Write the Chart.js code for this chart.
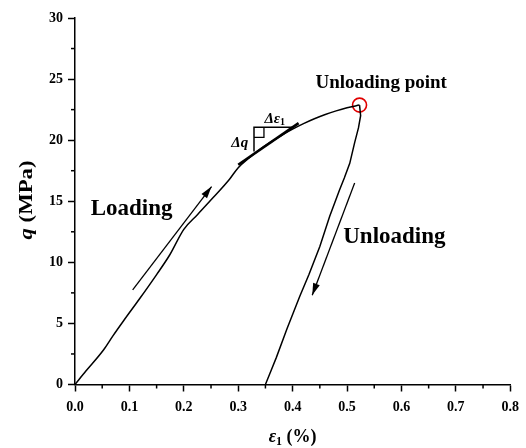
<!DOCTYPE html>
<html>
<head>
<meta charset="utf-8">
<script src="https://cdn.jsdelivr.net/npm/chart.js@4.4.1/dist/chart.umd.min.js"></script>
<style>
  html, body { margin: 0; padding: 0; background: #fff; }
  #wrap { width: 526px; height: 448px; }
</style>
</head>
<body>
<div id="wrap"><canvas id="c" width="526" height="448"></canvas></div>
<script>
'use strict';

// 加载段 (ε1 %, q MPa)
var loadingEps = [0, 0.02, 0.052, 0.07, 0.089, 0.12, 0.15, 0.174, 0.2, 0.225, 0.254, 0.284, 0.30, 0.32, 0.34, 0.36, 0.38, 0.40, 0.42, 0.44, 0.46, 0.48, 0.50, 0.523];
var loadingQ   = [0, 1.1, 2.8, 4.0, 5.2, 7.1, 9.0, 10.6, 12.7, 13.9, 15.3, 16.8, 17.75, 18.55, 19.25, 19.85, 20.4, 20.9, 21.35, 21.75, 22.1, 22.4, 22.65, 22.87];

// 卸载段
var unloadingEps = [0.523, 0.525, 0.521, 0.514, 0.505, 0.495, 0.486, 0.468, 0.45, 0.43, 0.413, 0.39, 0.37, 0.361, 0.35];
var unloadingQ   = [22.87, 22.0, 21.0, 19.8, 18.1, 16.9, 15.9, 13.75, 11.3, 9.0, 7.2, 4.6, 2.2, 1.2, 0];

// 切线与三角形 (数据坐标)
var tangentEps = [0.300, 0.411];
var tangentQ   = [17.99, 21.4];
var triangleEps = [0.329, 0.329, 0.4006];
var triangleQ   = [19.08, 21.05, 21.05];
var squareEps = [0.329, 0.3473, 0.3473];
var squareQ   = [20.23, 20.23, 21.05];

// 箭头
var loadArrowEps = [0.106, 0.251];
var loadArrowQ   = [7.75, 16.2];
var unloadArrowEps = [0.514, 0.436];
var unloadArrowQ   = [16.5, 7.3];

// 卸载点
var unloadPointEps = [0.523];
var unloadPointQ   = [22.87];

// 刻度
var xTicks = [0, 0.1, 0.2, 0.3, 0.4, 0.5, 0.6, 0.7, 0.8];
var yTicks = [0, 5, 10, 15, 20, 25, 30];

var SERIF = "'Liberation Serif', 'Times New Roman', serif";

function toPoints(xs, ys) {
  return xs.map(function (x, i) { return { x: x, y: ys[i] }; });
}

function lineSet(xs, ys, width) {
  return {
    data: toPoints(xs, ys),
    showLine: true,
    borderColor: '#000',
    borderWidth: width,
    pointRadius: 0,
    tension: 0,
    fill: false
  };
}

var loadingSet = lineSet(loadingEps, loadingQ, 1.5);
loadingSet.cubicInterpolationMode = 'monotone';

var loadArrow = lineSet(loadArrowEps, loadArrowQ, 1.3);
loadArrow.arrow = true;
var unloadArrow = lineSet(unloadArrowEps, unloadArrowQ, 1.3);
unloadArrow.arrow = true;

/** 次刻度、箭头头部、文字注释、坐标轴标题 */
var decorPlugin = {
  id: 'decor',
  afterDatasetsDraw: function (chart) {
    var ctx = chart.ctx;
    var xs = chart.scales.x;
    var ys = chart.scales.y;
    var area = chart.chartArea;

    ctx.save();
    ctx.strokeStyle = '#000';
    ctx.fillStyle = '#000';
    ctx.lineWidth = 1.5;

    // 次刻度
    var v, p;
    for (v = xs.min + 0.05; v < xs.max; v += 0.1) {
      p = xs.getPixelForValue(v);
      ctx.beginPath(); ctx.moveTo(p, area.bottom); ctx.lineTo(p, area.bottom + 4); ctx.stroke();
    }
    for (v = ys.min + 2.5; v < ys.max; v += 5) {
      p = ys.getPixelForValue(v);
      ctx.beginPath(); ctx.moveTo(area.left, p); ctx.lineTo(area.left - 4, p); ctx.stroke();
    }

    // 箭头头部
    chart.data.datasets.forEach(function (ds, i) {
      if (!ds.arrow) return;
      var pts = chart.getDatasetMeta(i).data;
      var a = pts[pts.length - 2], b = pts[pts.length - 1];
      var ang = Math.atan2(b.y - a.y, b.x - a.x);
      ctx.save();
      ctx.translate(b.x, b.y);
      ctx.rotate(ang);
      ctx.beginPath();
      ctx.moveTo(0, 0);
      ctx.lineTo(-12, -3.5);
      ctx.lineTo(-12, 3.5);
      ctx.closePath();
      ctx.fill();
      ctx.restore();
    });

    function text(str, ex, q, font, align) {
      ctx.font = font;
      ctx.textAlign = align || 'center';
      ctx.textBaseline = 'middle';
      ctx.fillText(str, xs.getPixelForValue(ex), ys.getPixelForValue(q));
    }

    text('Loading', 0.104, 14.36, 'bold 23px ' + SERIF);
    text('Unloading', 0.587, 12.1, 'bold 23px ' + SERIF);
    text('Unloading point', 0.5627, 24.7, 'bold 19px ' + SERIF);
    text('\u0394q', 0.3028, 19.77, 'italic bold 15px ' + SERIF);

    // Δε1
    var dx = xs.getPixelForValue(0.367), dy = ys.getPixelForValue(21.76);
    ctx.font = 'italic bold 15px ' + SERIF;
    var w1 = ctx.measureText('\u0394\u03b5').width;
    ctx.font = 'bold 10px ' + SERIF;
    var w2 = ctx.measureText('1').width;
    var sx = dx - (w1 + w2) / 2;
    ctx.textAlign = 'left';
    ctx.textBaseline = 'middle';
    ctx.font = 'italic bold 15px ' + SERIF;
    ctx.fillText('\u0394\u03b5', sx, dy);
    ctx.font = 'bold 10px ' + SERIF;
    ctx.fillText('1', sx + w1, dy + 4);

    // x 轴标题 ε1 (%)
    var cx = (area.left + area.right) / 2, cy = 437;
    ctx.font = 'italic bold 18px ' + SERIF;
    var a1 = ctx.measureText('\u03b5').width;
    ctx.font = 'bold 12px ' + SERIF;
    var a2 = ctx.measureText('1').width;
    ctx.font = 'bold 18px ' + SERIF;
    var a3 = ctx.measureText(' (%)').width;
    var tx = cx - (a1 + a2 + a3) / 2;
    ctx.font = 'italic bold 18px ' + SERIF;
    ctx.fillText('\u03b5', tx, cy);
    ctx.font = 'bold 12px ' + SERIF;
    ctx.fillText('1', tx + a1, cy + 5);
    ctx.font = 'bold 18px ' + SERIF;
    ctx.fillText(' (%)', tx + a1 + a2, cy);

    // y 轴标题 q (MPa)，原图文字沿长度方向略拉伸
    ctx.save();
    ctx.translate(27, 200);
    ctx.rotate(-Math.PI / 2);
    ctx.scale(1.2, 1);
    ctx.font = 'italic bold 19px ' + SERIF;
    var b1 = ctx.measureText('q').width;
    ctx.font = 'bold 19px ' + SERIF;
    var b2 = ctx.measureText(' (MPa)').width;
    var ty = -(b1 + b2) / 2;
    ctx.font = 'italic bold 19px ' + SERIF;
    ctx.fillText('q', ty, 0);
    ctx.font = 'bold 19px ' + SERIF;
    ctx.fillText(' (MPa)', ty + b1, 0);
    ctx.restore();

    ctx.restore();
  }
};

function axisOpts(min, max, ticks, fmt, fit, pad) {
  return {
    type: 'linear',
    min: min,
    max: max,
    afterFit: fit,
    afterBuildTicks: function (scale) {
      scale.ticks = ticks.map(function (t) { return { value: t }; });
    },
    grid: {
      drawOnChartArea: false,
      drawTicks: true,
      tickLength: 7,
      tickWidth: 1.5,
      tickColor: '#000'
    },
    border: { display: true, color: '#000', width: 1.5 },
    ticks: {
      color: '#000',
      padding: pad,
      font: { family: SERIF, size: 14, weight: 'bold' },
      callback: fmt
    }
  };
}

new Chart(document.getElementById('c'), {
  type: 'scatter',
  data: {
    datasets: [
      loadingSet,
      lineSet(unloadingEps, unloadingQ, 1.5),
      lineSet(tangentEps, tangentQ, 2.6),
      lineSet(triangleEps, triangleQ, 1.5),
      lineSet(squareEps, squareQ, 1.3),
      loadArrow,
      unloadArrow,
      {
        data: toPoints(unloadPointEps, unloadPointQ),
        showLine: false,
        pointRadius: 7,
        pointBorderWidth: 1.6,
        pointBorderColor: '#e00000',
        pointBackgroundColor: 'rgba(0,0,0,0)'
      }
    ]
  },
  options: {
    responsive: false,
    animation: false,
    layout: { padding: { top: 18, right: 15, left: 0, bottom: 0 } },
    plugins: { legend: { display: false }, tooltip: { enabled: false } },
    scales: {
      x: axisOpts(0, 0.8, xTicks, function (v) { return Number(v).toFixed(1); },
        function (s) { s.height = 63.5; }, 7),
      y: axisOpts(0, 30, yTicks, function (v) { return String(v); },
        function (s) { s.width = 75; }, 5)
    }
  },
  plugins: [decorPlugin]
});
</script>
</body>
</html>
